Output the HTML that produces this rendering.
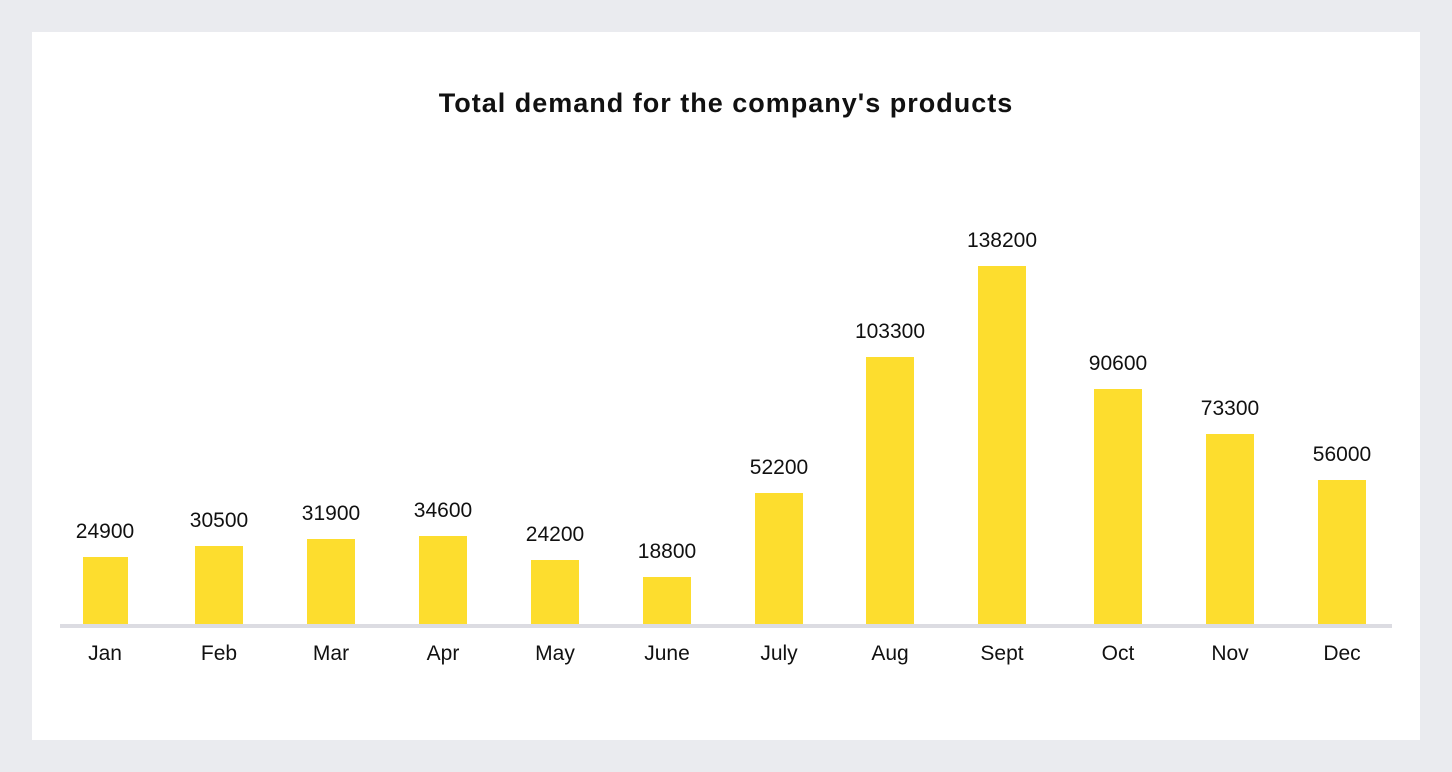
<!DOCTYPE html>
<html><head><meta charset="utf-8"><style>
body{margin:0;background:#eaebef;width:1452px;height:772px;overflow:hidden}
</style></head><body>
<svg width="1452" height="772" xmlns="http://www.w3.org/2000/svg" style="position:absolute;left:0;top:0">
<rect x="0" y="0" width="1452" height="772" fill="#eaebef"/>
<rect x="32" y="32" width="1388" height="708" fill="#ffffff"/>
<text x="726" y="112" text-anchor="middle" font-family="Liberation Sans, sans-serif" font-weight="bold" font-size="27" letter-spacing="1" fill="#111">Total demand for the company's products</text>
<g fill="#fddd2e">
<rect x="83" y="557" width="45" height="67"/>
<rect x="195" y="546" width="48" height="78"/>
<rect x="307" y="539" width="48" height="85"/>
<rect x="419" y="536" width="48" height="88"/>
<rect x="531" y="560" width="48" height="64"/>
<rect x="643" y="577" width="48" height="47"/>
<rect x="755" y="493" width="48" height="131"/>
<rect x="866" y="357" width="48" height="267"/>
<rect x="978" y="266" width="48" height="358"/>
<rect x="1094" y="389" width="48" height="235"/>
<rect x="1206" y="434" width="48" height="190"/>
<rect x="1318" y="480" width="48" height="144"/>
</g>
<rect x="60" y="624" width="1332" height="4" fill="#dcdce2"/>
<g font-family="Liberation Sans, sans-serif" font-size="21" fill="#111" text-anchor="middle">
<text x="105" y="538">24900</text>
<text x="219" y="527">30500</text>
<text x="331" y="520">31900</text>
<text x="443" y="517">34600</text>
<text x="555" y="541">24200</text>
<text x="667" y="558">18800</text>
<text x="779" y="474">52200</text>
<text x="890" y="338">103300</text>
<text x="1002" y="247">138200</text>
<text x="1118" y="370">90600</text>
<text x="1230" y="415">73300</text>
<text x="1342" y="461">56000</text>
</g>
<g font-family="Liberation Sans, sans-serif" font-size="21" fill="#111" text-anchor="middle">
<text x="105" y="660">Jan</text>
<text x="219" y="660">Feb</text>
<text x="331" y="660">Mar</text>
<text x="443" y="660">Apr</text>
<text x="555" y="660">May</text>
<text x="667" y="660">June</text>
<text x="779" y="660">July</text>
<text x="890" y="660">Aug</text>
<text x="1002" y="660">Sept</text>
<text x="1118" y="660">Oct</text>
<text x="1230" y="660">Nov</text>
<text x="1342" y="660">Dec</text>
</g>
</svg>
</body></html>
